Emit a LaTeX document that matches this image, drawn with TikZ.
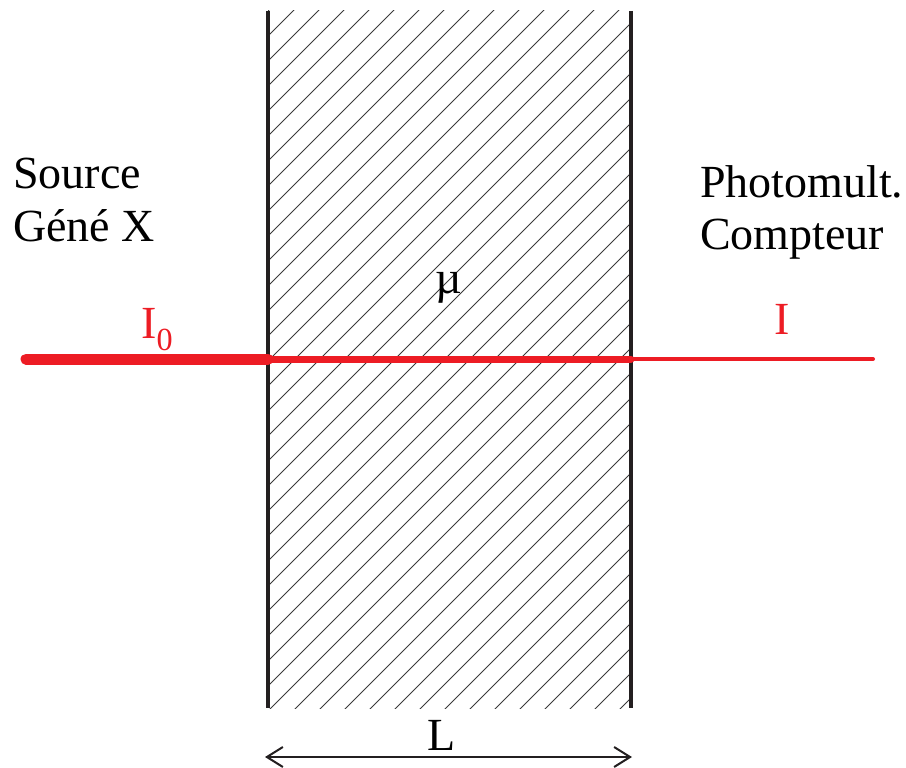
\documentclass[tikz,border=0pt]{standalone}
\usepackage{fontspec}
\setmainfont{Liberation Serif}
\usetikzlibrary{arrows.meta}
\definecolor{beamred}{HTML}{ED1C24}
\definecolor{wallblack}{HTML}{231F20}
\definecolor{hatchgray}{HTML}{3A3A3A}
\begin{document}
\begin{tikzpicture}[x=1pt,y=-1pt,
  lbl/.style={inner sep=0pt,anchor=base west,font=\fontsize{46}{54}\selectfont},
  wall/.style={draw=wallblack,line width=4pt},
  hatch/.style={draw=hatchgray,line width=1pt},
  beam/.style={draw=beamred,line cap=round}]
\useasboundingbox (0,0) rectangle (906,768);
% coordinates
\coordinate (TL) at (268,11);
\coordinate (BL) at (268,708);
\coordinate (TR) at (631,11);
\coordinate (BR) at (631,708);
\coordinate (S0) at (26,359);
\coordinate (SL) at (268,359);
\coordinate (SR) at (631,359);
\coordinate (S3) at (873,359);
\coordinate (AL) at (265,757);
\coordinate (AR) at (632,757);
% hatching
\begin{scope}
\clip (TL) rectangle (BR);
\foreach \k in {10,...,54}{
  \pgfmathsetmacro{\c}{4+25*\k}
  \draw[hatch] (\c-800,800) -- (\c,0);
}
\end{scope}
% walls
\draw[wall] (TL) -- (BL);
\draw[wall] (TR) -- (BR);
% beam
\draw[beam,line width=11pt] (S0) -- (SL);
\draw[beam,line width=7pt] (SL) -- (SR);
\draw[beam,line width=4pt] (SR) -- (S3);
% dimension arrow
\draw[wallblack,line width=2pt,{Straight Barb[length=16pt,width=20pt]}-{Straight Barb[length=16pt,width=20pt]}] (AL) -- (AR);
% labels
\node[lbl] (src) at (13,188) {Source};
\node[lbl] (gen) at (13,241) {Géné X};
\node[lbl] (pm) at (700,197) {Photomult.};
\node[lbl] (cpt) at (700,249) {Compteur};
\node[lbl,anchor=base] (mu) at (449,293) {µ};
\node[lbl,text=beamred] (i0) at (141,338) {I$_{\fontsize{30}{30}\selectfont\mathrm{0}}$};
\node[lbl,text=beamred] (i1) at (774,334) {I};
\node[lbl,anchor=base] (len) at (442,750) {L};
\end{tikzpicture}
\end{document}
